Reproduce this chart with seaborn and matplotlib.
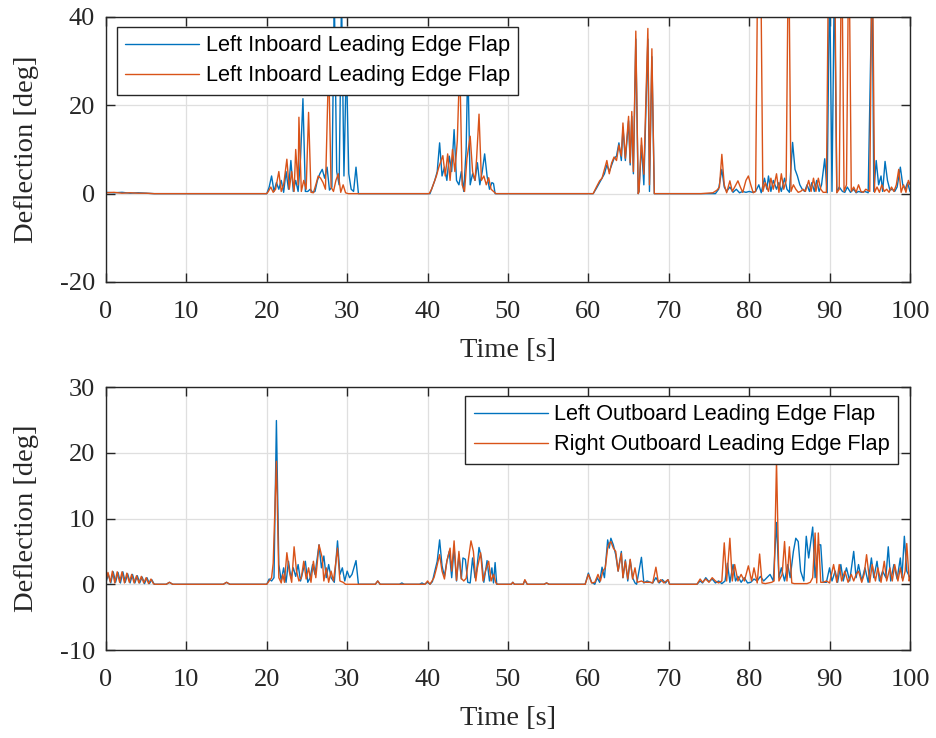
import numpy as np
import pandas as pd
import seaborn as sns
import matplotlib.pyplot as plt

# datos (tiempo [s], deflexion [deg])
t_top_left = [0, 1, 2, 3, 4, 5, 6, 20.0,
              20.3, 20.6, 20.9, 21.2, 21.5, 21.8, 22.1, 22.4, 22.7, 23.0, 23.3, 23.6, 23.9, 24.2, 24.5, 24.8,
              25.1, 25.4, 25.7, 26.0, 26.3, 26.6, 26.9, 27.2, 27.5, 27.8, 28.1, 28.4, 28.7, 29.0, 29.3, 29.6,
              29.9, 30.2, 30.5, 30.8, 31.1, 31.4,
              40.3, 40.6, 40.9, 41.2, 41.5, 41.8, 42.1, 42.4, 42.7, 43.0, 43.3, 43.6, 43.9, 44.2, 44.5, 44.8,
              45.0, 45.3, 45.6, 45.9, 46.2, 46.5, 46.8, 47.1, 47.4, 47.7, 48.0, 48.2, 48.4,
              60.6, 61.0, 61.4, 61.7, 62.0, 62.3, 62.6, 62.9, 63.2, 63.5, 63.8, 64.1, 64.3, 64.6, 65.0, 65.2,
              65.4, 65.6, 65.9, 66.2, 66.3, 66.6, 66.9, 67.4, 67.6, 67.9, 68.2,
              75.8, 76.2, 76.6, 76.9, 77.2, 77.6, 78.0, 78.4, 78.8, 79.2, 79.6, 80.0, 80.4, 80.8, 81.2, 81.5,
              81.9, 82.2, 82.4, 82.7, 83.0, 83.4, 83.7, 84.0, 84.4, 84.7, 85.0, 85.4, 85.7, 86.0, 86.3, 86.6,
              86.9, 87.2, 87.5, 87.8, 88.1, 88.4, 88.7, 89.0, 89.4, 89.7, 90.0, 90.3, 90.6, 90.9, 91.2, 91.6,
              91.9, 92.2, 92.6, 93.0, 93.3, 93.6, 94.0, 94.4, 94.8, 95.3, 95.5, 95.8, 96.1, 96.4, 96.6, 96.9,
              97.2, 97.5, 97.8, 98.1, 98.4, 98.8, 99.1, 99.4, 99.7, 100.0]
v_top_left = [0.3, 0.2, 0.3, 0.1, 0.2, 0.1, 0, 0,
              1.5, 4.0, 0.5, 2.5, 1.0, 3.0, 0.3, 5.0, 1.0, 7.5, 0.5, 3.0, 0.5, 8.0, 21.5, 0.5,
              0.5, 1.0, 0.3, 0.5, 3.0, 4.5, 5.5, 3.5, 6.0, 0.8, 1.5, 45, 5.0, 2.0, 45, 4.0,
              30, 4.5, 1.0, 0.5, 6.0, 0,
              0, 1.5, 3.0, 5.0, 11.5, 4.0, 6.0, 3.0, 8.5, 5.0, 14.5, 3.0, 2.0, 5.0, 0.5, 10,
              30, 2.0, 4.5, 3.0, 7.0, 2.0, 5.0, 9.0, 4.0, 1.0, 2.5, 2.3, 0,
              0, 1.2, 2.5, 3.5, 4.5, 6.5, 5.0, 6.5, 8.0, 8.5, 11.5, 7.5, 15, 7.5, 16.5, 6.5,
              17.5, 4.5, 35, 0, 0.5, 11, 2.0, 35, 0.5, 31, 0,
              0, 1.0, 5.5, 1.5, 0.5, 1.5, 0.3, 1.0, 0.2, 0.5, 0.3, 0.5, 0.3, 0.5, 2.0, 0.2,
              3.5, 1.0, 4.0, 0.5, 3.0, 1.0, 2.5, 0.5, 3.5, 1.0, 0.3, 11.6, 5.5, 4.0, 2.0, 1.0,
              0.5, 2.0, 0.5, 2.5, 0.5, 3.0, 0.5, 2.0, 7.9, 0.2, 50, 0.5, 50, 0.3, 1.5, 0.5,
              0.3, 1.5, 0.3, 1.0, 0.2, 0.5, 0.3, 0.5, 0.2, 50, 0.5, 7.5, 2.0, 4.0, 0.5, 7.3,
              3.0, 0.8, 1.0, 0.5, 1.5, 6.0, 2.0, 1.0, 2.5, 0.5]

t_top_right = [0, 1, 2, 3, 4, 5, 6, 20.0,
               20.2, 20.5, 20.8, 21.1, 21.5, 21.8, 22.1, 22.5, 22.8, 23.1, 23.4, 23.6, 23.9, 24.0, 24.3, 24.6,
               24.9, 25.2, 25.5, 25.8, 26.1, 26.4, 26.7, 27.0, 27.3, 27.7, 28.0, 28.3, 28.6, 28.9, 29.2, 29.5,
               29.8, 30.1,
               40.2, 40.5, 40.8, 41.1, 41.4, 41.9, 42.2, 42.5, 42.8, 43.1, 43.4, 43.7, 44.0, 44.3, 44.6, 44.9,
               45.3, 45.6, 45.9, 46.1, 46.4, 46.7, 47.0, 47.3, 47.6, 47.9, 48.2, 48.5,
               60.6, 61.0, 61.4, 61.7, 62.0, 62.3, 62.6, 62.9, 63.2, 63.5, 63.8, 64.1, 64.3, 64.6, 65.0, 65.2,
               65.4, 65.6, 65.9, 66.2, 66.3, 66.6, 66.9, 67.4, 67.6, 67.9, 68.2,
               74.0, 75.5, 76.0, 76.3, 76.6, 76.9, 77.2, 77.6, 77.9, 78.2, 78.6, 78.9, 79.2, 79.6, 79.9, 80.2,
               80.5, 80.8, 81.1, 81.4, 81.7, 82.0, 82.4, 82.7, 83.0, 83.4, 83.7, 84.0, 84.3, 84.6, 84.9, 85.2,
               85.5, 85.8, 86.1, 86.4, 86.7, 87.0, 87.4, 87.7, 88.0, 88.3, 88.6, 88.9, 89.2, 89.6, 89.9, 90.2,
               90.6, 90.9, 91.2, 91.5, 91.8, 92.1, 92.4, 92.7, 93.0, 93.3, 93.6, 93.9, 94.2, 94.5, 95.0, 95.3,
               95.6, 95.9, 96.2, 96.5, 96.8, 97.1, 97.4, 97.7, 98.0, 98.3, 98.6, 98.9, 99.2, 99.5, 99.8, 100.0]
v_top_right = [0.2, 0.3, 0.1, 0.2, 0.1, 0.1, 0, 0,
               0.5, 1.5, 0.3, 1.0, 5.0, 0.5, 2.0, 7.8, 1.0, 5.0, 0.5, 10, 2.0, 17.3, 0.5, 3.0,
               1.0, 18.4, 0.3, 0.2, 2.0, 4.0, 3.5, 2.5, 1.0, 30, 1.5, 0.5, 3.0, 4.5, 0.3, 2.0,
               0.2, 0,
               0, 1.0, 2.5, 4.0, 6.0, 8.6, 4.0, 9.0, 3.0, 10, 5.0, 12, 30, 2.0, 0.5, 8.0,
               13, 5.0, 3.0, 8.0, 18, 3.0, 4.0, 2.0, 3.6, 1.0, 0.5, 0,
               0, 1.5, 2.9, 3.5, 5.5, 7.5, 4.5, 7.0, 8.3, 7.5, 11, 8.5, 16, 8.0, 17.5, 7.0,
               18.6, 5.0, 36.8, 0, 0.5, 12.6, 4.4, 37.4, 2.0, 32.8, 0,
               0, 0.2, 0.8, 1.5, 8.9, 2.0, 0.2, 2.9, 0.5, 1.5, 2.9, 1.5, 0.3, 3.0, 4.0, 2.0,
               0.2, 0.5, 60, 60, 0.5, 2.5, 0.5, 3.5, 1.0, 4.5, 0.3, 4.5, 1.0, 3.0, 60, 0.5,
               2.0, 1.0, 0.3, 0.5, 1.0, 0.5, 3.0, 0.5, 3.5, 0.5, 3.5, 1.0, 0.3, 0.3, 60, 60,
               60, 0.2, 1.0, 60, 0.5, 2.0, 60, 0.5, 1.5, 0.3, 2.0, 0.5, 0.3, 1.0, 0.5, 60,
               0.3, 1.5, 0.3, 2.0, 0.5, 1.0, 0.3, 1.5, 0.5, 2.0, 5.5, 0.3, 2.0, 0.3, 3.0, 2.0]

t_bot_left = [0, 0.3, 0.6, 0.9, 1.2, 1.5, 1.8, 2.1, 2.4, 2.7, 3.0, 3.3, 3.6, 3.9, 4.2, 4.5,
              4.8, 5.1, 5.4, 5.7, 6.0, 7.5, 7.9, 8.3, 14.6, 15.0, 15.4, 20.0,
              20.3, 20.6, 20.9, 21.2, 21.5, 21.8, 22.1, 22.4, 22.7, 23.0, 23.3, 23.6, 23.9, 24.2, 24.5, 24.8,
              25.1, 25.4, 25.7, 26.0, 26.5, 26.8, 27.1, 27.4, 27.7, 28.0, 28.4, 28.8, 29.1, 29.4, 29.7, 30.0,
              30.3, 30.6, 31.1, 31.4, 33.5, 33.8, 34.1, 36.5, 36.8, 37.1, 39.0, 39.3, 39.6, 40.0,
              40.3, 40.6, 40.9, 41.2, 41.5, 41.8, 42.1, 42.4, 42.7, 43.0, 43.3, 43.6, 43.9, 44.2, 44.4, 44.7,
              45.0, 45.3, 45.6, 45.9, 46.1, 46.4, 46.7, 47.0, 47.4, 47.7, 48.0, 48.2, 48.4, 48.6,
              50.4, 50.6, 50.8, 51.9, 52.1, 52.4, 54.5, 54.8, 55.1, 59.6,
              60.0, 60.4, 60.8, 61.1, 61.4, 61.7, 62.0, 62.4, 62.6, 62.8, 63.1, 63.4, 63.7, 64.1, 64.3, 64.6,
              64.9, 65.2, 65.5, 65.8, 66.0, 66.6, 66.9, 67.3, 67.7, 68.0, 68.4, 68.8, 69.2, 69.6, 69.9, 70.1,
              73.5, 73.9, 74.2, 74.6, 75.0, 75.4, 75.8, 76.2, 76.6, 77.0, 77.3, 77.6, 78.0, 78.3, 78.6, 79.0,
              79.4, 79.8, 80.2, 80.6, 81.0, 81.4, 81.8, 82.2, 82.6, 83.0, 83.4, 83.7, 84.0, 84.4, 84.8, 85.1,
              85.5, 85.8, 86.1, 86.4, 86.8, 87.1, 87.4, 87.9, 88.2, 88.6, 88.9, 89.2, 89.6, 90.0, 90.3, 90.7,
              91.0, 91.4, 91.7, 92.1, 92.5, 93.0, 93.3, 93.6, 94.0, 94.4, 94.8, 95.2, 95.5, 95.9, 96.2, 96.6,
              97.0, 97.3, 97.6, 98.0, 98.4, 98.8, 99.0, 99.3, 99.6, 100.0]
v_bot_left = [0.3, 1.5, 0.2, 1.9, 0.3, 1.8, 0.2, 1.9, 0.3, 1.6, 0.2, 1.5, 0.2, 1.3, 0.2, 1.1,
              0.1, 1.0, 0.1, 0.7, 0, 0, 0.3, 0, 0, 0.3, 0, 0,
              0.8, 0.5, 1.0, 24.9, 3.0, 0.5, 2.5, 0.3, 3.5, 1.0, 2.5, 1.2, 3.0, 0.5, 2.0, 3.5,
              0.3, 1.0, 3.0, 1.5, 6.0, 2.5, 4.3, 1.0, 3.0, 1.0, 0.3, 6.6, 1.5, 2.5, 0.5, 2.0,
              1.0, 1.5, 3.6, 0, 0, 0.5, 0, 0, 0.2, 0, 0, 0.2, 0, 0.3,
              0, 0.4, 2.0, 3.5, 6.75, 2.8, 1.2, 3.5, 5.0, 1.0, 5.5, 0.5, 4.5, 0.8, 4.0, 3.8,
              0.3, 0.2, 4.0, 1.0, 2.0, 5.6, 4.0, 0.3, 3.6, 0.5, 2.5, 0.2, 3.3, 0,
              0, 0.3, 0, 0, 0.6, 0, 0, 0.2, 0, 0,
              1.7, 0.3, 0.0, 1.0, 0.3, 2.6, 1.0, 6.75, 5.5, 7.0, 6.0, 4.5, 2.0, 5.0, 1.0, 3.7,
              0.5, 3.7, 1.0, 0.2, 0.0, 4.1, 0.2, 0.5, 0.3, 0.2, 1.0, 0.2, 0.7, 0.2, 0.7, 0,
              0, 0.5, 0.2, 1.0, 0.4, 0.8, 0.2, 0.5, 0.1, 0.5, 3.2, 0.3, 3.0, 0.5, 1.2, 0.3,
              1.0, 0.2, 0.3, 0.8, 0.5, 1.2, 0.5, 1.0, 1.5, 0.5, 9.4, 1.0, 2.5, 0.5, 3.0, 1.0,
              5.0, 7.0, 6.5, 2.0, 0.5, 7.3, 4.0, 8.7, 1.0, 6.0, 6.0, 0.3, 0.3, 2.5, 0.5, 2.0,
              0.3, 3.0, 0.5, 2.5, 0.5, 5.0, 1.0, 3.0, 0.5, 2.5, 0.3, 4.0, 1.0, 3.5, 0.5, 2.0,
              1.0, 5.7, 0.5, 3.0, 0.8, 4.0, 1.0, 7.3, 2.0, 1.0]

t_bot_right = [0, 0.25, 0.55, 0.8, 1.1, 1.4, 1.7, 2.0, 2.3, 2.6, 2.9, 3.2, 3.5, 3.8, 4.1, 4.4,
               4.7, 5.0, 5.3, 5.6, 5.9, 6.1, 7.5, 7.9, 8.3, 14.6, 15.0, 15.4, 20.0,
               20.3, 20.6, 20.8, 21.2, 21.5, 21.8, 22.0, 22.2, 22.5, 22.8, 23.1, 23.4, 23.7, 24.0, 24.3, 24.6,
               24.9, 25.2, 25.5, 25.8, 26.1, 26.5, 26.9, 27.1, 27.4, 27.7, 28.0, 28.3, 28.8, 29.1, 29.5, 29.8,
               33.5, 33.8, 34.1, 39.7, 40.0,
               40.3, 40.8, 41.1, 41.5, 41.8, 42.1, 42.4, 42.8, 43.0, 43.3, 43.6, 43.9, 44.2, 44.5, 44.8, 45.1,
               45.4, 45.7, 46.0, 46.2, 46.6, 46.9, 47.2, 47.6, 47.9, 48.2, 48.5, 48.7,
               50.4, 50.6, 50.8, 51.9, 52.1, 52.4, 54.5, 54.8, 55.1, 59.6,
               60.0, 60.4, 60.8, 61.2, 61.5, 61.8, 62.1, 62.4, 62.6, 62.8, 63.1, 63.4, 63.7, 64.1, 64.3, 64.6,
               64.9, 65.2, 65.5, 65.8, 66.1, 66.6, 66.9, 67.3, 67.7, 68.0, 68.4, 68.7, 69.0, 69.4, 69.9, 70.1,
               73.5, 73.9, 74.2, 74.6, 75.0, 75.4, 75.8, 76.2, 76.6, 76.9, 77.2, 77.6, 77.9, 78.2, 78.6, 79.0,
               79.4, 79.9, 80.3, 80.6, 81.0, 81.3, 81.6, 82.0, 82.4, 82.8, 83.1, 83.4, 83.7, 84.1, 84.4, 84.7,
               85.0, 85.3, 85.6, 86.0, 86.4, 86.8, 87.2, 87.6, 87.9, 88.2, 88.4, 88.6, 88.9, 89.2, 89.6, 90.0,
               90.5, 90.9, 91.2, 91.5, 91.9, 92.3, 92.7, 93.0, 93.3, 93.6, 94.0, 94.3, 94.6, 95.0, 95.3, 95.7,
               96.0, 96.4, 96.8, 97.1, 97.5, 97.8, 98.1, 98.5, 98.8, 99.1, 99.4, 99.6, 99.9, 100.0]
v_bot_right = [0.5, 1.8, 0.3, 2.0, 0.2, 1.9, 0.3, 1.9, 0.2, 1.7, 0.3, 1.5, 0.2, 1.3, 0.2, 1.2,
               0.2, 1.0, 0.1, 0.8, 0.1, 0, 0, 0.3, 0, 0, 0.3, 0, 0,
               0.5, 1.0, 3.2, 18.7, 1.0, 0.2, 1.5, 0.3, 4.8, 2.0, 0.3, 5.7, 2.0, 0.5, 1.0, 3.5,
               0.8, 2.5, 0.3, 3.5, 1.0, 6.0, 4.0, 0.5, 2.5, 0.3, 2.0, 0.5, 5.5, 0.5, 0.3, 0,
               0, 0.5, 0, 0, 0.5,
               0, 1.0, 2.4, 4.5, 2.0, 0.8, 3.5, 5.5, 2.0, 6.6, 0.6, 5.0, 0.9, 0.5, 0.9, 4.0,
               6.6, 5.0, 0.5, 2.5, 4.8, 0.5, 2.0, 3.5, 0.5, 1.5, 0.2, 0,
               0, 0.3, 0, 0, 0.7, 0, 0, 0.2, 0, 0,
               1.5, 0.2, 0.3, 1.5, 0.5, 2.0, 2.5, 5.5, 6.2, 6.5, 5.5, 5.0, 2.0, 4.7, 1.0, 3.5,
               0.8, 3.8, 0.8, 2.5, 0.3, 0.5, 0.3, 0.3, 0.3, 0.2, 2.6, 0.3, 0.7, 0.2, 0.7, 0,
               0, 0.8, 0.3, 0.8, 0.3, 1.0, 0.5, 0.2, 0.5, 6.3, 0.5, 7.0, 0.5, 3.0, 0.5, 1.5,
               0.5, 2.8, 0.5, 2.5, 0.2, 4.6, 0.2, 0.1, 0.2, 0.3, 0.5, 18.7, 0.5, 1.5, 6.5, 0.5,
               5.7, 0.2, 0.1, 0.1, 0.1, 0.1, 0.1, 0.3, 1.0, 7.8, 0.2, 7.8, 0.3, 0.3, 0.5, 0.2,
               3.0, 0.3, 3.0, 0.5, 2.0, 0.3, 1.5, 0.5, 1.5, 2.0, 0.3, 1.5, 4.5, 0.3, 3.0, 0.5,
               2.5, 0.3, 3.5, 0.5, 2.5, 0.5, 3.0, 0.5, 2.5, 0.5, 2.0, 6.2, 0.5, 1.0]

labels_top = ["Left Inboard Leading Edge Flap", "Left Inboard Leading Edge Flap"]
labels_bot = ["Left Outboard Leading Edge Flap", "Right Outboard Leading Edge Flap"]
C_BLUE = "#0072BD"
C_ORANGE = "#D95319"
EJE = "#262626"

sns.set_theme(style="whitegrid")
plt.rcParams["font.family"] = ["Liberation Serif", "DejaVu Serif"]

fig = plt.figure(figsize=(9.36, 7.38), dpi=100)
ax1 = fig.add_axes([0.1132, 0.6179, 0.8590, 0.3591])
ax2 = fig.add_axes([0.1132, 0.1192, 0.8590, 0.3564])

def dibujar(ax, tl, vl, tr, vr, labels, ylim, yticks, leg_kw):
    sns.lineplot(x=tl, y=vl, ax=ax, color=C_BLUE, lw=1.0, label=labels[0], estimator=None, sort=False)
    sns.lineplot(x=tr, y=vr, ax=ax, color=C_ORANGE, lw=1.0, label=labels[1], estimator=None, sort=False)
    ax.set_xlim(0, 100)
    ax.set_ylim(*ylim)
    ax.set_xticks(range(0, 101, 10))
    ax.set_yticks(yticks)
    ax.set_yticklabels([str(v) for v in yticks])
    ax.grid(True, color="#dfdfdf", lw=0.9)
    ax.set_facecolor("white")
    for s in ax.spines.values():
        s.set_visible(True)
        s.set_color(EJE)
        s.set_linewidth(1.0)
    ax.tick_params(direction="in", length=6.5, width=1.0, color=EJE, labelcolor=EJE,
                   labelsize=19, top=True, right=True, bottom=True, left=True)
    ax.tick_params(axis="x", pad=13.5)
    ax.tick_params(axis="y", pad=8)
    ax.set_xlabel("Time [s]", fontsize=20.5, color=EJE, labelpad=11)
    ax.set_ylabel("Deflection [deg]", fontsize=20.5, color=EJE, labelpad=15)
    leg = ax.legend(prop={"family": "Liberation Sans", "size": 15.7}, frameon=True, fancybox=False,
                    framealpha=1, edgecolor=EJE, borderpad=0.38, labelspacing=0.42,
                    handlelength=3.4, handletextpad=0.3, borderaxespad=0, **leg_kw)
    leg.get_frame().set_linewidth(1.0)
    leg.set_zorder(5)
    for txt in leg.get_texts():
        txt.set_color("black")

dibujar(ax1, t_top_left, v_top_left, t_top_right, v_top_right, labels_top, (-20, 40), [-20, 0, 20, 40],
        dict(loc="upper left", bbox_to_anchor=(0.0137, 0.962)))
dibujar(ax2, t_bot_left, v_bot_left, t_bot_right, v_bot_right, labels_bot, (-10, 30), [-10, 0, 10, 20, 30],
        dict(loc="upper right", bbox_to_anchor=(0.9857, 0.966)))

fig.savefig("out.png", dpi=100, facecolor="white")
